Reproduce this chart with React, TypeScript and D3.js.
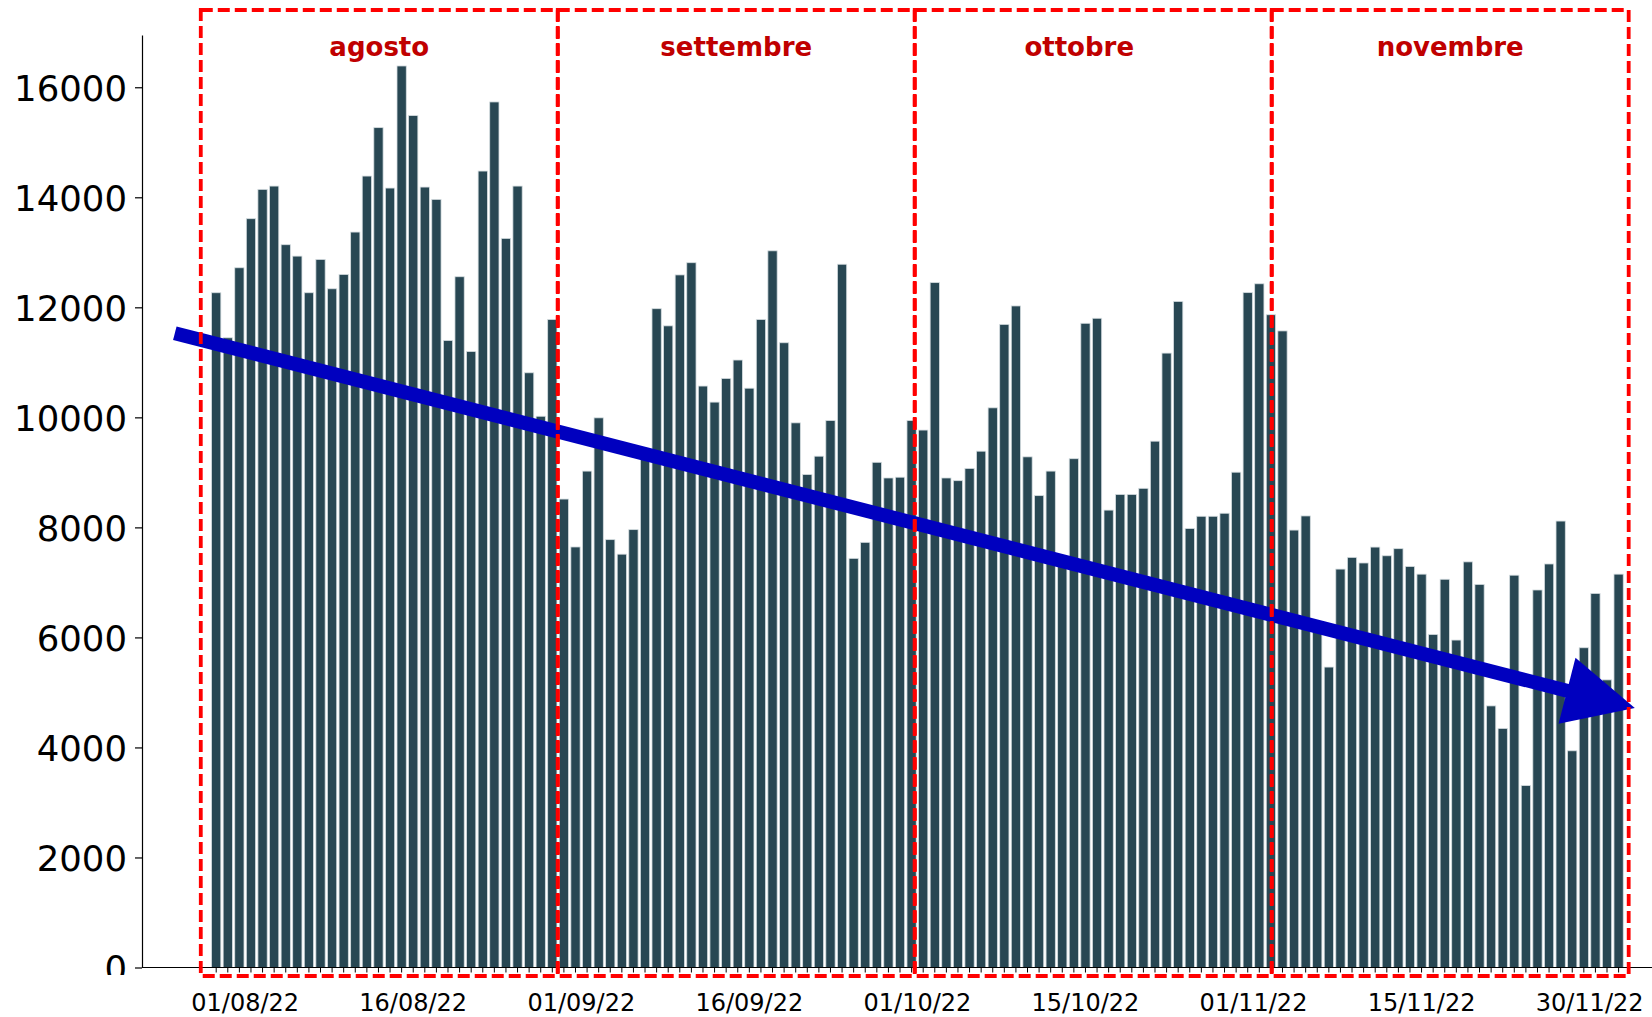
import * as d3 from "d3";
import React, { useEffect, useRef } from "react";

// daily values (01/08/22 .. 30/11/22)
const agosto = [
  12265, 11446, 12719, 13611, 14144, 14204, 13138, 12931, 12265, 12871, 12337,
  12598, 13368, 14386, 15266, 14168, 16387, 15485, 14186, 13962, 11397, 12556,
  11197, 14477, 15733, 13253, 14204, 10810, 10020, 11779, 8515,
];
const settembre = [
  7644, 9023, 9991, 7777, 7513, 7959, 9300, 11975, 11663, 12589, 12811, 10569,
  10277, 10708, 11042, 10530, 11779, 13027, 11356, 9900, 8961, 9294, 9942,
  12783, 7437, 7728, 9183, 8898, 8912, 9942,
];
const ottobre = [
  9769, 12449, 8898, 8849, 9072, 9385, 10173, 11690, 12025, 9282, 8577, 9023,
  7400, 9248, 11710, 11801, 8314, 8599, 8599, 8710, 9567, 11168, 12107, 7979,
  8202, 8202, 8257, 9003, 12267, 12428, 11865,
];
const novembre = [
  11571, 7951, 8208, 6200, 5461, 7242, 7455, 7353, 7642, 7484, 7613, 7289, 7150,
  6054, 7057, 5952, 7373, 6964, 4755, 4346, 7131, 3307, 6862, 7335, 8115, 3939,
  5812, 6800, 5228, 7150,
];

const monthNames = ["agosto", "settembre", "ottobre", "novembre"];
const tickLabels = [
  "01/08/22",
  "16/08/22",
  "01/09/22",
  "16/09/22",
  "01/10/22",
  "15/10/22",
  "01/11/22",
  "15/11/22",
  "30/11/22",
];
const yTicks = [0, 2000, 4000, 6000, 8000, 10000, 12000, 14000, 16000];
// trend arrow: value at its start and at its tip
const trendValues = [11530, 4715];

const values = [...agosto, ...settembre, ...ottobre, ...novembre];
const days = d3.timeDay.range(new Date(2022, 7, 1), new Date(2022, 11, 1));
const fmt = d3.timeFormat("%d/%m/%y");

const W = 1652;
const H = 1017;
const FONT = "DejaVu Sans, sans-serif";

const App: React.FC = () => {
  const svgRef = useRef<SVGSVGElement>(null);

  useEffect(() => {
    const svg = d3.select(svgRef.current);
    svg.selectAll("*").remove();

    const x = d3
      .scaleBand<number>()
      .domain(d3.range(values.length))
      .range([210.4, 1624.4])
      .paddingInner(0.2)
      .paddingOuter(0.1);
    const step = x.step();
    // centre of a (possibly fractional) day index
    const xc = (i: number) => (x(0) || 0) + x.bandwidth() / 2 + i * step;

    const y = d3.scaleLinear().domain([0, 16950]).range([967.5, 35]);

    // bars
    svg
      .append("g")
      .selectAll("rect")
      .data(values)
      .join("rect")
      .attr("x", (_, i) => x(i) || 0)
      .attr("width", x.bandwidth())
      .attr("y", (d) => y(d))
      .attr("height", (d) => y(0) - y(d))
      .attr("fill", "#284753")
      .attr("stroke", "#d5dde0")
      .attr("stroke-width", 0.8)
      .append("title")
      .text((d, i) => `${fmt(days[i])}: ${d}`);

    // y axis (the "0" label is cut at the bottom, as in the original)
    svg
      .append("defs")
      .append("clipPath")
      .attr("id", "yclip")
      .append("rect")
      .attr("x", -150)
      .attr("y", 0)
      .attr("width", 160)
      .attr("height", 975);

    const yAxis = svg
      .append("g")
      .attr("transform", "translate(142,0)")
      .attr("clip-path", "url(#yclip)")
      .call(
        d3
          .axisLeft(y)
          .tickValues(yTicks)
          .tickSize(7)
          .tickSizeOuter(0)
          .tickPadding(8)
          .tickFormat((d) => String(d))
      );
    yAxis.select(".domain").attr("stroke", "#000").attr("stroke-width", 1.2);
    yAxis.selectAll(".tick line").attr("stroke", "#000").attr("stroke-width", 1.2);
    yAxis
      .selectAll("text")
      .attr("font-family", FONT)
      .attr("font-size", 35.5)
      .attr("fill", "#000")
      .attr("dy", "0.36em");

    // x axis
    const xAxis = svg
      .append("g")
      .attr("transform", "translate(0,967.5)")
      .call(
        d3
          .axisBottom(x)
          .tickSize(5)
          .tickSizeOuter(0)
          .tickFormat(() => "")
      );
    xAxis.select(".domain").remove();
    xAxis.selectAll(".tick line").attr("stroke", "#000").attr("stroke-width", 1);
    svg
      .append("line")
      .attr("x1", 142)
      .attr("x2", W)
      .attr("y1", y(0))
      .attr("y2", y(0))
      .attr("stroke", "#000")
      .attr("stroke-width", 1.2);

    svg
      .append("g")
      .selectAll("text")
      .data(tickLabels)
      .join("text")
      .attr("x", (_, k) => xc(2.5 + 14.5 * k))
      .attr("y", 1011)
      .attr("text-anchor", "middle")
      .attr("font-family", FONT)
      .attr("font-size", 24)
      .attr("fill", "#000")
      .text((d) => d);

    // trend arrow
    const p1: [number, number] = [xc(-3.57), y(trendValues[0])];
    const tip: [number, number] = [xc(122.4), y(trendValues[1])];
    const dx = tip[0] - p1[0];
    const dy = tip[1] - p1[1];
    const len = Math.hypot(dx, dy);
    const ux = dx / len;
    const uy = dy / len;
    const headLen = 70;
    const headHalf = 34;
    const base: [number, number] = [tip[0] - ux * headLen, tip[1] - uy * headLen];
    svg
      .append("line")
      .attr("x1", p1[0])
      .attr("y1", p1[1])
      .attr("x2", base[0] + ux * 2)
      .attr("y2", base[1] + uy * 2)
      .attr("stroke", "#0000bf")
      .attr("stroke-width", 14);
    svg
      .append("polygon")
      .attr(
        "points",
        [
          tip,
          [base[0] - uy * headHalf, base[1] + ux * headHalf],
          [base[0] + uy * headHalf, base[1] - ux * headHalf],
        ]
          .map((p) => p.join(","))
          .join(" ")
      )
      .attr("fill", "#0000bf");

    // month boxes
    const boxL = xc(-1.33);
    const boxR = xc(121.87);
    const boxW = (boxR - boxL) / monthNames.length;
    const labelDx = [0, 0, -14, 0];
    const boxes = svg
      .append("g")
      .selectAll("g")
      .data(monthNames)
      .join("g");
    boxes
      .append("rect")
      .attr("x", (_, i) => boxL + i * boxW)
      .attr("y", 10)
      .attr("width", boxW)
      .attr("height", 966)
      .attr("fill", "none")
      .attr("stroke", "#ff0000")
      .attr("stroke-width", 3.8)
      .attr("stroke-dasharray", "12 5");
    boxes
      .append("text")
      .attr("x", (_, i) => boxL + (i + 0.5) * boxW + labelDx[i])
      .attr("y", 56)
      .attr("text-anchor", "middle")
      .attr("font-family", FONT)
      .attr("font-weight", "bold")
      .attr("font-size", 26)
      .attr("fill", "#c00000")
      .text((d) => d);
  }, []);

  return (
    <div style={{ position: "absolute", left: 0, top: 0 }}>
      <svg ref={svgRef} width={W} height={H} style={{ display: "block" }} />
    </div>
  );
};

export default App;
